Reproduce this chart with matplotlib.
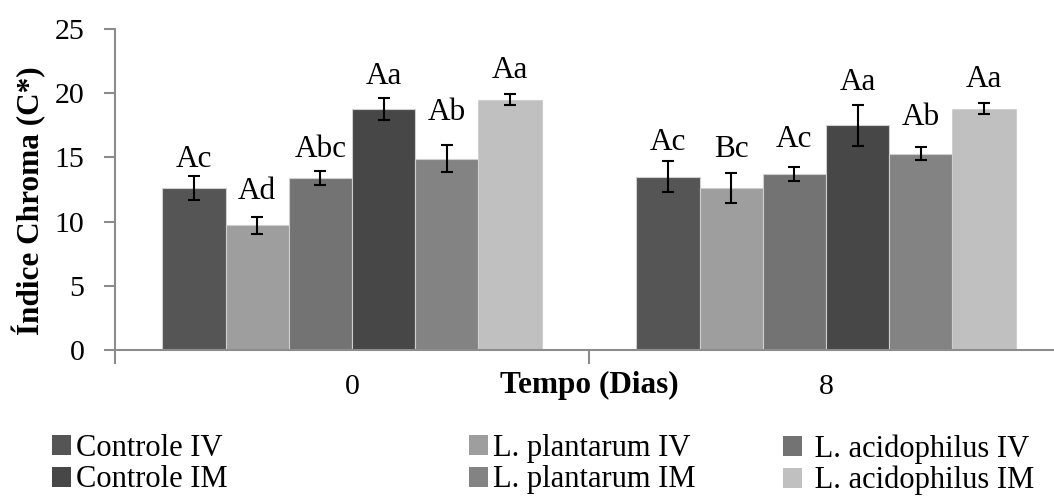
import numpy as np
import matplotlib.pyplot as plt
from matplotlib.patches import Patch

plt.rcParams['font.family'] = ['Liberation Serif', 'DejaVu Serif']

days = ["0", "8"]
series = ["Controle IV", "L. plantarum IV", "L. acidophilus IV",
          "Controle IM", "L. plantarum IM", "L. acidophilus IM"]
colors = ["#555555", "#9e9e9e", "#737373", "#474747", "#838383", "#c0c0c0"]

# mean chroma per series, day 0 then day 8
means = [
    [12.6, 13.5],
    [9.7, 12.6],
    [13.4, 13.7],
    [18.8, 17.5],
    [14.9, 15.3],
    [19.5, 18.8],
]
errors = [
    [0.95, 1.2],
    [0.65, 1.15],
    [0.55, 0.55],
    [0.85, 1.6],
    [1.05, 0.5],
    [0.4, 0.45],
]
letters = [
    ["Ac", "Ac"],
    ["Ad", "Bc"],
    ["Abc", "Ac"],
    ["Aa", "Aa"],
    ["Ab", "Ab"],
    ["Aa", "Aa"],
]
# gap between error bar top and the letter baseline
label_gap = [
    [0.72, 0.86],
    [1.39, 1.28],
    [1.1, 1.57],
    [1.05, 1.13],
    [2.0, 1.69],
    [1.25, 1.24],
]

fig = plt.figure(figsize=(10.54, 4.97), dpi=100)
ax = fig.add_axes([115 / 1054, 1 - 350 / 497, 948 / 1054, 321 / 497])

x = np.arange(len(days))
n = len(series)
w = 0.8 / n
for i in range(n):
    pos = x - 0.4 + w * (i + 0.5)
    ax.bar(pos, means[i], width=w, color=colors[i], edgecolor="#cfcfcf",
           linewidth=0.8, label=series[i], zorder=2)
    ax.errorbar(pos, means[i], yerr=errors[i], fmt="none", ecolor="black",
                elinewidth=1.5, capsize=4.2, capthick=1.5, zorder=3)
    for j in range(len(days)):
        top = means[i][j] + errors[i][j] + label_gap[i][j]
        ax.text(pos[j], top, letters[i][j], ha="center", va="baseline",
                fontsize=22.5)

ax.set_xlim(-0.5, 1.5)
ax.set_ylim(0, 25)
ax.set_yticks([0, 5, 10, 15, 20, 25])
ax.set_xticks(x)
ax.set_xticklabels(days)
ax.set_xticks([-0.5, 0.5, 1.5], minor=True)

for s in ["top", "right"]:
    ax.spines[s].set_visible(False)
for s in ["left", "bottom"]:
    ax.spines[s].set_color("#8c8c8c")
    ax.spines[s].set_linewidth(1.5)

ax.tick_params(axis="y", length=8, width=1.5, color="#8c8c8c",
               labelsize=21.5, pad=14)
ax.tick_params(axis="x", which="major", length=0, labelsize=21.5, pad=17)
ax.tick_params(axis="x", which="minor", length=10, width=1.5,
               color="#8c8c8c")

ax.set_ylabel("Índice Chroma (C*)", fontsize=22.5, fontweight="bold")
ax.yaxis.set_label_coords(-0.073, 0.464)
ax.set_xlabel("Tempo (Dias)", fontsize=22.5, fontweight="bold")
ax.xaxis.set_label_coords(0.5, -0.066)

# legend: three columns, two rows each
col_x = [52 / 1054, 469 / 1054, 783 / 1054]
for k in range(3):
    idx = [k, k + 3]
    handles = [Patch(facecolor=colors[m], edgecolor="none") for m in idx]
    labels = [series[m] if k < 2 else " " + series[m] for m in idx]
    fig.legend(handles, labels, loc="upper left",
               bbox_to_anchor=(col_x[k], 1 - 434 / 497),
               frameon=False, fontsize=22, handlelength=0.62,
               handleheight=0.62, handletextpad=0.16,
               labelspacing=0.08, borderpad=0, borderaxespad=0)

fig.savefig("out.png", dpi=100)
